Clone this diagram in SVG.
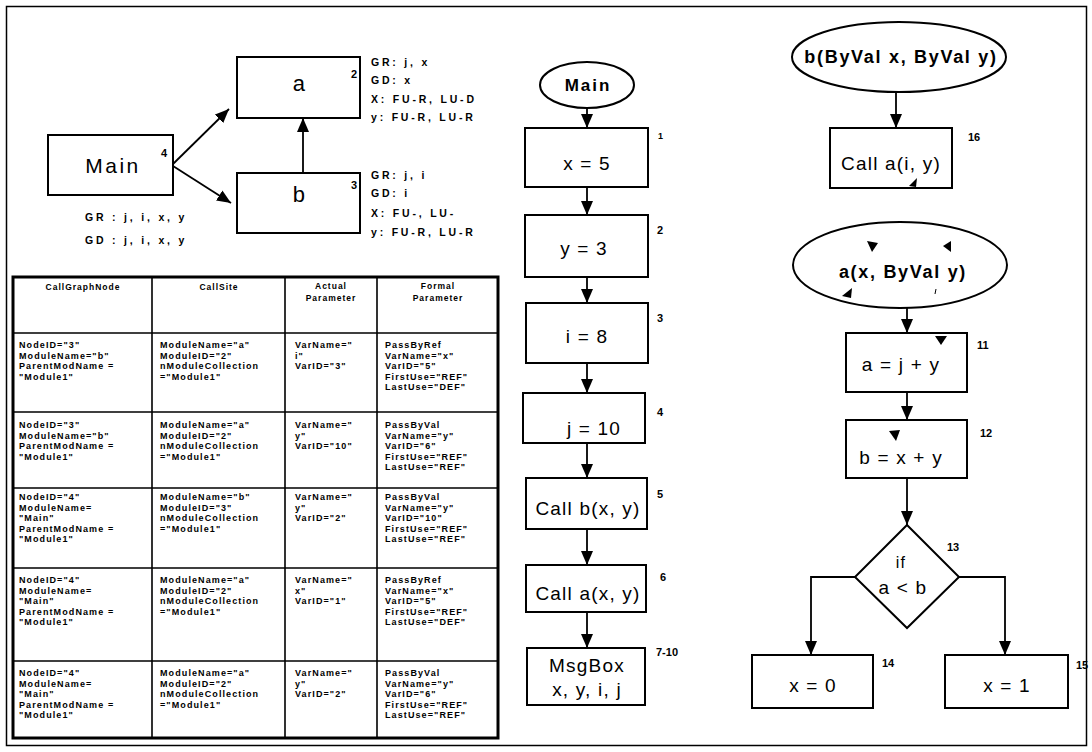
<svg xmlns="http://www.w3.org/2000/svg" width="1092" height="752" viewBox="0 0 1092 752">
<defs>
<marker id="ah" viewBox="0 0 14 12" markerWidth="14" markerHeight="12" refX="14" refY="6" orient="auto" markerUnits="userSpaceOnUse">
<path d="M0,0 L14,6 L0,12 z" fill="#000"/>
</marker>
</defs>
<style>
.box{fill:#fff;stroke:#000;stroke-width:2}
.edge{fill:none;stroke:#000;stroke-width:1.8;marker-end:url(#ah)}
.grid{fill:none;stroke:#000;stroke-width:1.6}
.big{font-family:"Liberation Sans",Arial,sans-serif;font-size:21px;letter-spacing:2.5px;text-anchor:middle}
.st{font-family:"Liberation Sans",Arial,sans-serif;font-size:19px;letter-spacing:1.2px;text-anchor:middle}
.oval{font-family:"Liberation Sans",Arial,sans-serif;font-weight:bold;font-size:17px;text-anchor:middle}
.num{font-family:"Liberation Sans",Arial,sans-serif;font-weight:bold;font-size:11px}
.lab{font-family:"Liberation Sans",Arial,sans-serif;font-weight:bold;font-size:10.5px;letter-spacing:2.8px}
.th{font-family:"Liberation Sans",Arial,sans-serif;font-weight:bold;font-size:8.5px;letter-spacing:1px;text-anchor:middle}
.td{font-family:"Liberation Sans",Arial,sans-serif;font-weight:bold;font-size:9px;letter-spacing:1.1px}
.mark{fill:#000}
</style>
<rect width="1092" height="752" fill="#fff"/>
<rect x="6.5" y="6.5" width="1080" height="739" fill="none" stroke="#000" stroke-width="1.5"/>

<!-- call graph -->
<g id="cg-main">
<rect class="box" x="48" y="135" width="125" height="60"/>
<text class="big" x="113" y="173">Main</text>
<text class="num" x="161" y="157">4</text>
<text class="lab" x="85" y="221">GR : j, i, x, y</text>
<text class="lab" x="85" y="244">GD : j, i, x, y</text>
</g>
<g id="cg-a">
<rect class="box" x="237" y="57" width="123" height="61"/>
<text class="big" x="300" y="91" style="font-size:22px">a</text>
<text class="num" x="351" y="78">2</text>
<text class="lab" x="371" y="66">GR: j, x</text>
<text class="lab" x="371" y="84">GD: x</text>
<text class="lab" x="371" y="103">X: FU-R, LU-D</text>
<text class="lab" x="371" y="121">y: FU-R, LU-R</text>
</g>
<g id="cg-b">
<rect class="box" x="237" y="173" width="123" height="60"/>
<text class="big" x="300" y="202" style="font-size:22px">b</text>
<text class="num" x="351" y="189">3</text>
<text class="lab" x="371" y="179">GR: j, i</text>
<text class="lab" x="371" y="197">GD: i</text>
<text class="lab" x="371" y="217">X: FU-, LU-</text>
<text class="lab" x="371" y="236">y: FU-R, LU-R</text>
</g>

<!-- parameter table -->
<g id="param-table">
<rect x="13" y="277" width="485" height="461" fill="none" stroke="#000" stroke-width="3"/>
<path class="grid" d="M152,277 V738 M285,277 V738 M377,277 V738 M13,333 H498 M13,412 H498 M13,488 H498 M13,568 H498 M13,661 H498"/>
<text class="th" x="83" y="290">CallGraphNode</text>
<text class="th" x="219" y="290">CallSite</text>
<text class="th" x="331" y="289">Actual</text>
<text class="th" x="331" y="301">Parameter</text>
<text class="th" x="438" y="289">Formal</text>
<text class="th" x="438" y="301">Parameter</text>

<text class="td" y="348"><tspan x="19">NodeID="3"</tspan><tspan x="19" dy="10.5">ModuleName="b"</tspan><tspan x="19" dy="10.5">ParentModName =</tspan><tspan x="19" dy="10.5">"Module1"</tspan></text>
<text class="td" y="348"><tspan x="160">ModuleName="a"</tspan><tspan x="160" dy="10.5">ModuleID="2"</tspan><tspan x="160" dy="10.5">nModuleCollection</tspan><tspan x="160" dy="10.5">="Module1"</tspan></text>
<text class="td" y="348"><tspan x="295">VarName="</tspan><tspan x="295" dy="10.5">i"</tspan><tspan x="295" dy="10.5">VarID="3"</tspan></text>
<text class="td" y="348"><tspan x="385">PassByRef</tspan><tspan x="385" dy="10.5">VarName="x"</tspan><tspan x="385" dy="10.5">VarID="5"</tspan><tspan x="385" dy="10.5">FirstUse="REF"</tspan><tspan x="385" dy="10.5">LastUse="DEF"</tspan></text>

<text class="td" y="428"><tspan x="19">NodeID="3"</tspan><tspan x="19" dy="10.5">ModuleName="b"</tspan><tspan x="19" dy="10.5">ParentModName =</tspan><tspan x="19" dy="10.5">"Module1"</tspan></text>
<text class="td" y="428"><tspan x="160">ModuleName="a"</tspan><tspan x="160" dy="10.5">ModuleID="2"</tspan><tspan x="160" dy="10.5">nModuleCollection</tspan><tspan x="160" dy="10.5">="Module1"</tspan></text>
<text class="td" y="428"><tspan x="295">VarName="</tspan><tspan x="295" dy="10.5">y"</tspan><tspan x="295" dy="10.5">VarID="10"</tspan></text>
<text class="td" y="428"><tspan x="385">PassByVal</tspan><tspan x="385" dy="10.5">VarName="y"</tspan><tspan x="385" dy="10.5">VarID="6"</tspan><tspan x="385" dy="10.5">FirstUse="REF"</tspan><tspan x="385" dy="10.5">LastUse="REF"</tspan></text>

<text class="td" y="500"><tspan x="19">NodeID="4"</tspan><tspan x="19" dy="10.5">ModuleName=</tspan><tspan x="19" dy="10.5">"Main"</tspan><tspan x="19" dy="10.5">ParentModName =</tspan><tspan x="19" dy="10.5">"Module1"</tspan></text>
<text class="td" y="500"><tspan x="160">ModuleName="b"</tspan><tspan x="160" dy="10.5">ModuleID="3"</tspan><tspan x="160" dy="10.5">nModuleCollection</tspan><tspan x="160" dy="10.5">="Module1"</tspan></text>
<text class="td" y="500"><tspan x="295">VarName="</tspan><tspan x="295" dy="10.5">y"</tspan><tspan x="295" dy="10.5">VarID="2"</tspan></text>
<text class="td" y="500"><tspan x="385">PassByVal</tspan><tspan x="385" dy="10.5">VarName="y"</tspan><tspan x="385" dy="10.5">VarID="10"</tspan><tspan x="385" dy="10.5">FirstUse="REF"</tspan><tspan x="385" dy="10.5">LastUse="REF"</tspan></text>

<text class="td" y="583"><tspan x="19">NodeID="4"</tspan><tspan x="19" dy="10.5">ModuleName=</tspan><tspan x="19" dy="10.5">"Main"</tspan><tspan x="19" dy="10.5">ParentModName =</tspan><tspan x="19" dy="10.5">"Module1"</tspan></text>
<text class="td" y="583"><tspan x="160">ModuleName="a"</tspan><tspan x="160" dy="10.5">ModuleID="2"</tspan><tspan x="160" dy="10.5">nModuleCollection</tspan><tspan x="160" dy="10.5">="Module1"</tspan></text>
<text class="td" y="583"><tspan x="295">VarName="</tspan><tspan x="295" dy="10.5">x"</tspan><tspan x="295" dy="10.5">VarID="1"</tspan></text>
<text class="td" y="583"><tspan x="385">PassByRef</tspan><tspan x="385" dy="10.5">VarName="x"</tspan><tspan x="385" dy="10.5">VarID="5"</tspan><tspan x="385" dy="10.5">FirstUse="REF"</tspan><tspan x="385" dy="10.5">LastUse="DEF"</tspan></text>

<text class="td" y="676"><tspan x="19">NodeID="4"</tspan><tspan x="19" dy="10.5">ModuleName=</tspan><tspan x="19" dy="10.5">"Main"</tspan><tspan x="19" dy="10.5">ParentModName =</tspan><tspan x="19" dy="10.5">"Module1"</tspan></text>
<text class="td" y="676"><tspan x="160">ModuleName="a"</tspan><tspan x="160" dy="10.5">ModuleID="2"</tspan><tspan x="160" dy="10.5">nModuleCollection</tspan><tspan x="160" dy="10.5">="Module1"</tspan></text>
<text class="td" y="676"><tspan x="295">VarName="</tspan><tspan x="295" dy="10.5">y"</tspan><tspan x="295" dy="10.5">VarID="2"</tspan></text>
<text class="td" y="676"><tspan x="385">PassByVal</tspan><tspan x="385" dy="10.5">VarName="y"</tspan><tspan x="385" dy="10.5">VarID="6"</tspan><tspan x="385" dy="10.5">FirstUse="REF"</tspan><tspan x="385" dy="10.5">LastUse="REF"</tspan></text>
</g>

<!-- Main flowchart -->
<g id="m-start">
<ellipse class="box" cx="587" cy="85" rx="47" ry="23"/>
<text class="oval" x="588" y="91" style="letter-spacing:2px">Main</text>
</g>
<g id="m-1">
<rect class="box" x="525" y="128" width="123" height="59"/>
<text class="st" x="587" y="170">x = 5</text>
<text class="num" x="658" y="139" style="font-size:9px">1</text>
</g>
<g id="m-2">
<rect class="box" x="525" y="215" width="123" height="62"/>
<text class="st" x="584" y="255">y = 3</text>
<text class="num" x="657" y="234">2</text>
</g>
<g id="m-3">
<rect class="box" x="526" y="303" width="122" height="60"/>
<text class="st" x="587" y="343">i = 8</text>
<text class="num" x="657" y="322">3</text>
</g>
<g id="m-4">
<rect class="box" x="523" y="393" width="122" height="50"/>
<text class="st" x="594" y="435">j = 10</text>
<text class="num" x="657" y="416">4</text>
</g>
<g id="m-5">
<rect class="box" x="526" y="478" width="121" height="51"/>
<text class="st" x="588" y="515">Call b(x, y)</text>
<text class="num" x="657" y="498">5</text>
</g>
<g id="m-6">
<rect class="box" x="526" y="565" width="120" height="47"/>
<text class="st" x="588" y="600">Call a(x, y)</text>
<text class="num" x="660" y="581">6</text>
</g>
<g id="m-7">
<rect class="box" x="527" y="648" width="118" height="57"/>
<text class="st" x="587" y="672">MsgBox</text>
<text class="st" x="587" y="696">x, y, i, j</text>
<text class="num" x="656" y="656">7-10</text>
</g>

<!-- b / a flowchart -->
<g id="b-start">
<ellipse class="box" cx="899" cy="57" rx="107" ry="35"/>
<text class="oval" x="901" y="63" style="font-size:18px;letter-spacing:1.7px">b(ByVal x, ByVal y)</text>
</g>
<g id="b-16">
<rect class="box" x="830" y="128" width="122" height="60"/>
<text class="st" x="891" y="170">Call a(i, y)</text>
<text class="num" x="968" y="141">16</text>
</g>
<g id="a-start">
<ellipse class="box" cx="900" cy="265" rx="107" ry="43"/>
<text class="oval" x="903" y="278" style="font-size:18px;letter-spacing:1.7px">a(x, ByVal y)</text>
</g>
<g id="a-11">
<rect class="box" x="846" y="333" width="121" height="59"/>
<text class="st" x="901" y="371">a = j + y</text>
<text class="num" x="977" y="349">11</text>
</g>
<g id="a-12">
<rect class="box" x="846" y="420" width="121" height="58"/>
<text class="st" x="901" y="464">b = x + y</text>
<text class="num" x="980" y="437">12</text>
</g>
<g id="a-13">
<path class="box" d="M907,525 L959,577 L907,628 L855,577 Z"/>
<text class="st" x="901" y="568" style="font-size:16px">if</text>
<text class="st" x="903" y="594">a &lt; b</text>
<text class="num" x="947" y="551">13</text>
</g>
<g id="a-14">
<rect class="box" x="752" y="655" width="121" height="53"/>
<text class="st" x="813" y="692">x = 0</text>
<text class="num" x="882" y="667">14</text>
</g>
<g id="a-15">
<rect class="box" x="945" y="655" width="123" height="53"/>
<text class="st" x="1007" y="692">x = 1</text>
<text class="num" x="1076" y="669">15</text>
</g>

<!-- connectors -->
<g id="connectors">
<line class="edge" x1="173" y1="164" x2="229" y2="109"/>
<line class="edge" x1="173" y1="166" x2="231" y2="203"/>
<line class="edge" x1="303" y1="173" x2="303" y2="118"/>
<line class="edge" x1="587" y1="108" x2="587" y2="128"/>
<line class="edge" x1="587" y1="187" x2="587" y2="215"/>
<line class="edge" x1="587" y1="277" x2="587" y2="303"/>
<line class="edge" x1="587" y1="363" x2="587" y2="393"/>
<line class="edge" x1="587" y1="443" x2="587" y2="478"/>
<line class="edge" x1="587" y1="529" x2="587" y2="565"/>
<line class="edge" x1="587" y1="612" x2="587" y2="648"/>
<line class="edge" x1="896" y1="92" x2="896" y2="128"/>
<line class="edge" x1="907" y1="308" x2="907" y2="333"/>
<line class="edge" x1="907" y1="392" x2="907" y2="420"/>
<line class="edge" x1="907" y1="478" x2="907" y2="525"/>
<path class="edge" d="M855,577 H811 V655"/>
<path class="edge" d="M959,577 H1005 V655"/>
</g>

<!-- small stray arrowhead marks -->
<g id="marks">
<path class="mark" d="M867,241 L878,243 L872,252 Z"/>
<path class="mark" d="M951,241 L951,252 L943,246 Z"/>
<path class="mark" d="M852,288 L851,298 L842,296 Z"/>
<path class="mark" d="M917,178 L916,187 L909,186 Z"/>
<path class="mark" d="M935,336 L947,336 L941,345 Z"/>
<path class="mark" d="M889,431 L900,430 L896,441 Z"/>
<line x1="936" y1="289" x2="935" y2="294" stroke="#000" stroke-width="1"/>
</g>
</svg>
